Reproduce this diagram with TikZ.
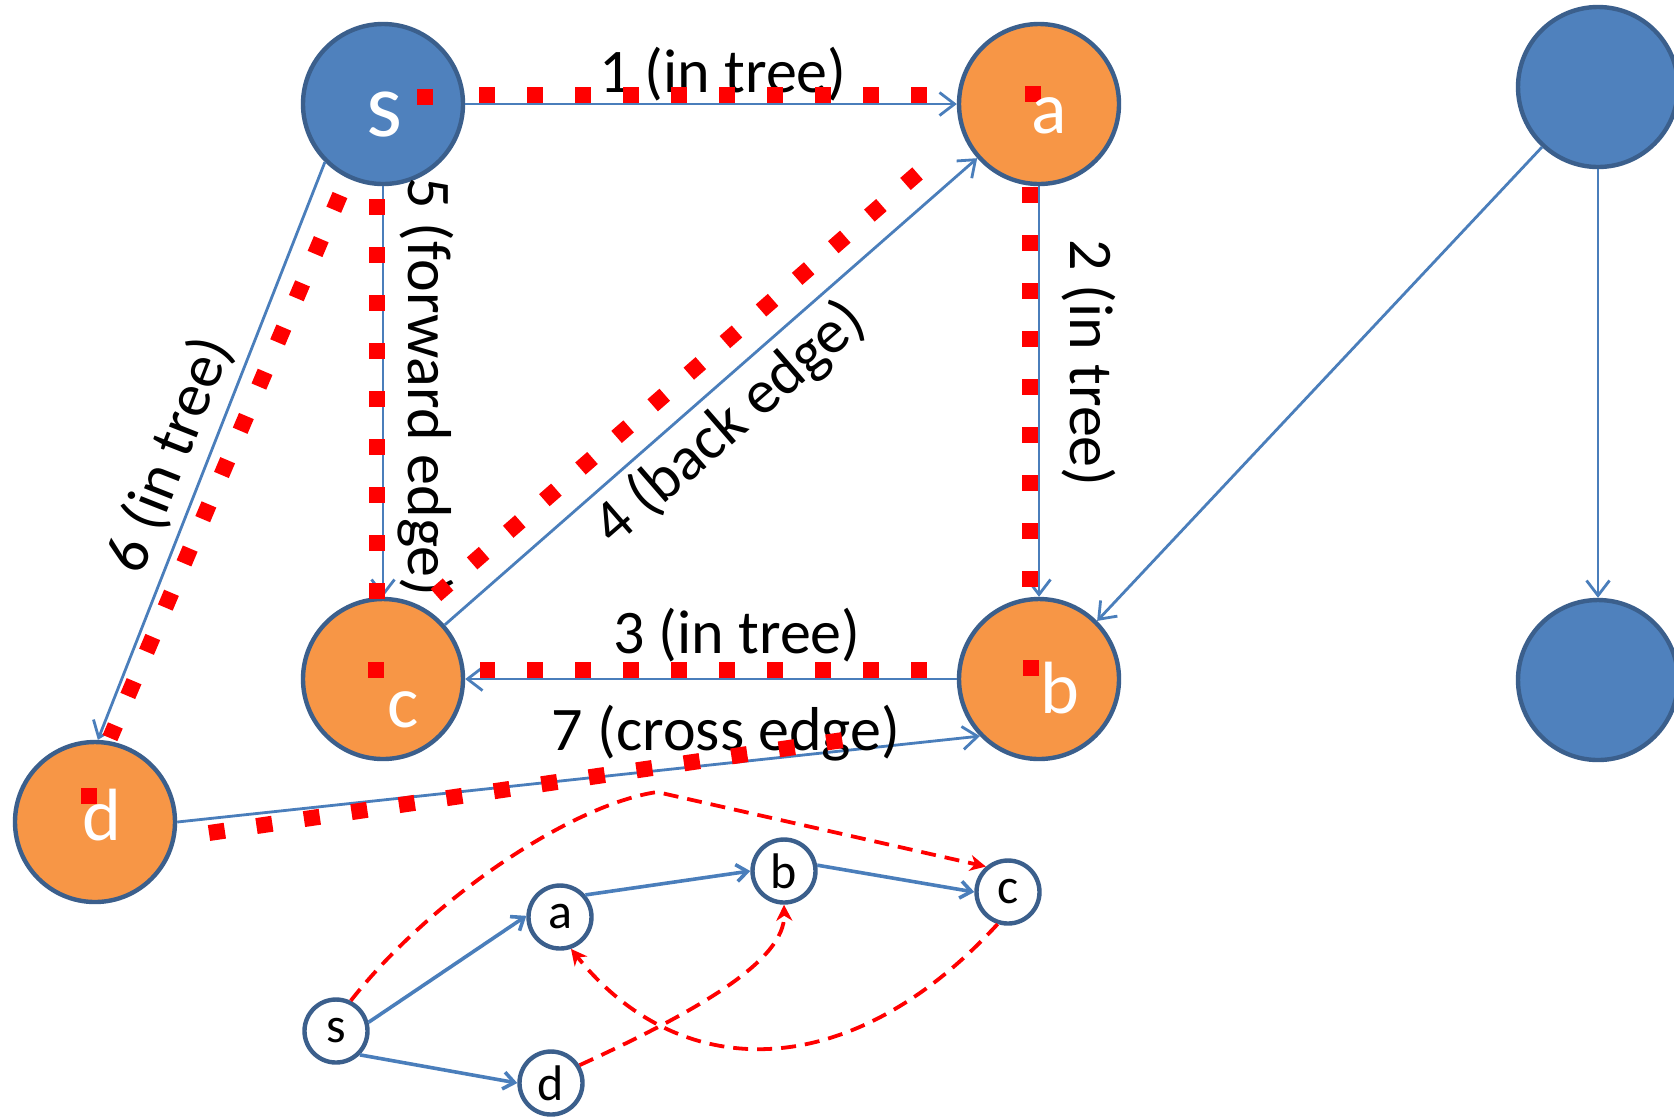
\documentclass[tikz,border=0pt]{standalone}
\usepackage{fontspec}
\setmainfont{Carlito}
\usetikzlibrary{arrows.meta,shapes.geometric,calc}
\definecolor{nodeblue}{HTML}{4F81BD}
\definecolor{nodeorange}{HTML}{F79646}
\definecolor{rim}{HTML}{3B5F8C}
\definecolor{edgeblue}{HTML}{4A7EBB}
\definecolor{dotred}{HTML}{FF0000}
\tikzset{
  big/.style={circle, draw=rim, line width=2.2pt, minimum size=80pt, inner sep=0pt},
  bluenode/.style={big, fill=nodeblue},
  orangenode/.style={big, fill=nodeorange},
  bigletter/.style={text=white, anchor=base, inner sep=0pt, font=\fontsize{37}{44}\selectfont},
  edgelabel/.style={anchor=base, inner sep=0pt, font=\fontsize{31}{37}\selectfont},
  bigedge/.style={draw=edgeblue, line width=1.4pt, -{Straight Barb[length=7.5pt,width=11.5pt]}},
  reddots/.style={draw=dotred, line width=8pt, dash pattern=on 8pt off 16pt, line cap=butt},
  reddot/.style={fill=dotred, minimum size=8pt, inner sep=0pt, outer sep=0pt},
  small/.style={circle, draw=rim, line width=2.2pt, fill=white, minimum size=31.5pt, inner sep=0pt, font=\fontsize{25}{29}\selectfont},
  smalledge/.style={draw=edgeblue, line width=1.8pt, -{Straight Barb[length=5.5pt,width=8.5pt]}},
  rededge/.style={draw=dotred, line width=1.9pt, dash pattern=on 7.5pt off 4.5pt, -{Stealth[length=8pt,width=8pt,inset=2.5pt]}},
}
\begin{document}
\begin{tikzpicture}[x=0.5pt,y=-0.5pt]
\fill[white] (0,0) rectangle (1674,1116);
\useasboundingbox (0,0) rectangle (1674,1116);

% big graph nodes
\node[bluenode] (S) at (383,104) {};
\node[orangenode] (A) at (1039,104) {};
\node[orangenode] (C) at (383,679) {};
\node[orangenode] (B) at (1039,679) {};
\node[orangenode] (D) at (95,822) {};
\node[bluenode] (TR) at (1598,87) {};
\node[bluenode] (BR) at (1598,680) {};

% blue edges
\draw[bigedge] (S) -- (A);
\draw[bigedge] (A) -- (B);
\draw[bigedge] (B) -- (C);
\draw[bigedge] (C) -- (A);
\draw[bigedge] (S) -- (C);
\draw[bigedge] (S.225) -- (D.88);
\draw[bigedge] (D.0) -- (B.224);
\draw[bigedge] (TR.227) -- (B.45);
\draw[bigedge] (TR) -- (BR);

% labels
\node[edgelabel] (L1) at (723,92) {1 (in tree)};
\node[edgelabel] (L3) at (737,653) {3 (in tree)};
\node[edgelabel] (L7) at (726,750) {7 (cross edge)};
\node[edgelabel, rotate=-90] (L2) at (1070,363) {2 (in tree)};
\node[edgelabel, rotate=-90] (L5) at (408,387) {5 (forward edge)};
\node[edgelabel, anchor=center, rotate=41] (L4) at (730,424) {4 (back edge)};
\node[edgelabel, anchor=center, rotate=68.5] (L6) at (170,455) {6 (in tree)};

% red dotted traversal
\coordinate (r1a) at (479,95);   \coordinate (r1b) at (929,95);
\coordinate (r2a) at (1030,187); \coordinate (r2b) at (1030,588);
\coordinate (r3a) at (927,670);  \coordinate (r3b) at (480,670);
\coordinate (r4a) at (436,595);  \coordinate (r4b) at (918,173);
\coordinate (r5a) at (377,199);  \coordinate (r5b) at (377,600);
\coordinate (r6a) at (340,195);  \coordinate (r6b) at (110,738);
\coordinate (r7a) at (209,833);  \coordinate (r7b) at (843,740);
\draw[reddots] (r1a) -- (r1b);
\draw[reddots] (r2a) -- (r2b);
\draw[reddots] (r3a) -- (r3b);
\draw[reddots] (r4a) -- (r4b);
\draw[reddots] (r5a) -- (r5b);
\draw[reddots] (r6a) -- (r6b);
\draw[reddots] (r7a) -- (r7b);
\node[reddot] (Sdot) at (425,97) {};
\node[reddot] (Adot) at (1033,94) {};
\node[reddot] (Bdot) at (1031,668) {};
\node[reddot] (Cdot) at (376,670) {};
\node[reddot] (Ddot) at (89,796) {};

% node letters
\node[bigletter, font=\fontsize{46}{55}\selectfont] (Slab) at (384,136) {s};
\node[bigletter] (Alab) at (1049,133) {a};
\node[bigletter] (Blab) at (1060,713) {b};
\node[bigletter] (Clab) at (403,727) {c};
\node[bigletter] (Dlab) at (102,840) {d};

% small graph
\node[small] (s2) at (336,1031) {s};
\node[small] (a2) at (560,917) {a};
\node[small] (b2) at (784,871) {b};
\node[small] (c2) at (1008,892) {c};
\node[small] (d2) at (551,1083) {d};

\draw[smalledge] (s2.15) -- (a2.178);
\draw[smalledge] (s2.-45) -- (d2.180);
\draw[smalledge] (a2.41) -- (b2.180);
\draw[smalledge] (b2.10) -- (c2.180);

\coordinate (peak) at (657,792);
\draw[rededge] (s2.64) .. controls (430,900) and (570,805) .. (peak) -- (c2.131);
\draw[rededge] (d2.32) .. controls (700,1010) and (785,960) .. (b2.270);
\draw[rededge] (c2.252) .. controls (850,1085) and (680,1085) .. (a2.289);
\end{tikzpicture}
\end{document}
